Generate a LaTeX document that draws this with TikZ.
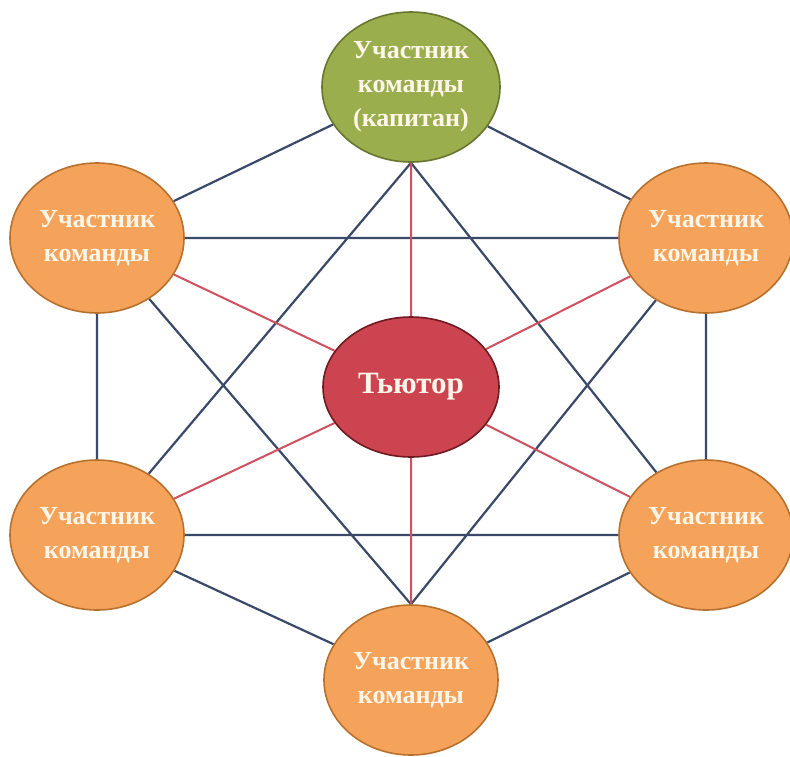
\documentclass[tikz,border=0pt]{standalone}
\usepackage{fontspec}
\setmainfont{Liberation Serif}
\usetikzlibrary{shapes.geometric,backgrounds}
\definecolor{orfill}{HTML}{F5A35A}
\definecolor{ordraw}{HTML}{B8702E}
\definecolor{grfill}{HTML}{9AAE4E}
\definecolor{grdraw}{HTML}{66762C}
\definecolor{rdfill}{HTML}{CC4450}
\definecolor{rddraw}{HTML}{6E1A20}
\definecolor{navy}{HTML}{3A4968}
\definecolor{redln}{HTML}{D0505E}
\definecolor{txt}{HTML}{FFF6EA}
\tikzset{
  member/.style={ellipse, draw=ordraw, fill=orfill, line width=1.6pt,
    minimum width=174pt, minimum height=150pt, inner sep=0pt, align=center,
    text=txt, font=\fontsize{26}{34}\selectfont\bfseries},
  captain/.style={member, draw=grdraw, fill=grfill, minimum width=178pt},
  tutor/.style={member, draw=rddraw, fill=rdfill, minimum width=176pt,
    minimum height=140pt, font=\fontsize{31}{36}\selectfont\bfseries},
  navyln/.style={draw=navy, line width=2.2pt},
  redlink/.style={draw=redln, line width=2pt}
}
\begin{document}
\begin{tikzpicture}[x=1pt,y=-1pt]
\useasboundingbox (0,0) rectangle (790,756);
\node[captain] (top) at (411,87) {Участник\\команды\\(капитан)};
\node[member] (tl) at (97,238) {Участник\\команды};
\node[member] (tr) at (706,238) {Участник\\команды};
\node[member] (bl) at (97,535) {Участник\\команды};
\node[member] (br) at (706,535) {Участник\\команды};
\node[member] (bot) at (411,680) {Участник\\команды};
\node[tutor] (tut) at (411,387) {Тьютор};
\begin{scope}[on background layer]
\path[navyln] (top) -- (tl) (top) -- (tr) (tl) -- (tr) (tl) -- (bl) (tr) -- (br)
  (bl) -- (br) (bl) -- (bot) (br) -- (bot)
  (top.south) -- (bl) (top.south) -- (br)
  (bot.north) -- (tl) (bot.north) -- (tr);
\path[redlink] (tut) -- (top) (tut) -- (bot) (tut) -- (tl) (tut) -- (tr)
  (tut) -- (bl) (tut) -- (br);
\end{scope}
\end{tikzpicture}
\end{document}
